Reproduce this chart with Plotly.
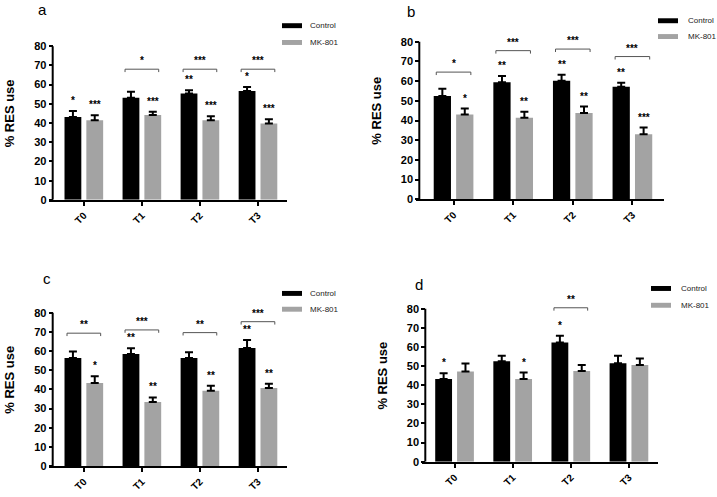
import plotly.graph_objects as go

categories = ["T0", "T1", "T2", "T3"]

# Panel a
a_control = [43.1, 53.2, 55.4, 56.6]
a_control_sem = [3.1, 3.1, 1.7, 2.1]
a_mk801 = [41.4, 44.2, 41.4, 39.8]
a_mk801_sem = [2.6, 1.7, 2.1, 2.1]
a_sig_control = ["*", "", "**", "*"]
a_sig_mk801 = ["***", "***", "***", "***"]
a_sig_pair = ["", "*", "***", "***"]
a_pair_level = [None, 68, 68, 68]

# Panel b
b_control = [52.5, 59.5, 60.2, 57.2]
b_control_sem = [3.7, 3.1, 3.0, 2.0]
b_mk801 = [43.1, 41.4, 43.8, 33.0]
b_mk801_sem = [3.0, 3.0, 3.3, 3.4]
b_sig_control = ["", "**", "**", "**"]
b_sig_mk801 = ["*", "**", "**", "***"]
b_sig_pair = ["*", "***", "***", "***"]
b_pair_level = [64.6, 75.5, 76.3, 72.5]

# Panel c
c_control = [56.3, 58.5, 56.3, 61.6]
c_control_sem = [3.4, 3.0, 3.1, 4.2]
c_mk801 = [43.3, 33.4, 39.3, 40.7]
c_mk801_sem = [3.5, 2.4, 2.6, 2.2]
c_sig_control = ["", "**", "", "**"]
c_sig_mk801 = ["*", "**", "**", "**"]
c_sig_pair = ["**", "***", "**", "***"]
c_pair_level = [69.3, 71.0, 69.6, 75.3]

# Panel d
d_control = [43.3, 52.5, 62.3, 51.5]
d_control_sem = [2.9, 2.9, 3.5, 3.9]
d_mk801 = [47.1, 43.3, 47.4, 50.6]
d_mk801_sem = [4.2, 3.3, 3.2, 3.4]
d_sig_control = ["*", "", "*", ""]
d_sig_mk801 = ["", "*", "", ""]
d_sig_pair = ["", "", "**", ""]
d_pair_level = [None, None, 80.5, None]

y_ticks = [0, 10, 20, 30, 40, 50, 60, 70, 80]
series_names = ["Control", "MK-801"]
panel_labels = ["a", "b", "c", "d"]

# ---------------- layout geometry (pixels) ----------------
W, H = 717, 497
FONT = "Liberation Sans, Arial, sans-serif"
BLACK = "#000000"
GRAY = "#a3a3a3"
BARGAP = 0.248
BARGROUPGAP = 0.23
YMAX = 90

# x-axis start, y-axis position, x-axis end, y of value 0, y of value 80, x range
geom = [
    (49, 52.7, 287, 202.3, 46.7, [-0.60, 3.5]),
    (416, 419.3, 664, 201.7, 42.3, [-0.63, 3.53]),
    (49, 52.7, 287, 471.7, 316.5, [-0.60, 3.5]),
    (422, 425.3, 658, 467.3, 312.5, [-0.56, 3.5]),
]
label_pos = [(42, 10), (411, 12), (47, 282), (419, 288)]
legend_pos = [(282, 26, 308, 43), (658, 21, 686, 37), (282, 297, 308, 313), (651, 292, 679, 309)]

panels = [
    (a_control, a_control_sem, a_mk801, a_mk801_sem, a_sig_control, a_sig_mk801, a_sig_pair, a_pair_level),
    (b_control, b_control_sem, b_mk801, b_mk801_sem, b_sig_control, b_sig_mk801, b_sig_pair, b_pair_level),
    (c_control, c_control_sem, c_mk801, c_mk801_sem, c_sig_control, c_sig_mk801, c_sig_pair, c_pair_level),
    (d_control, d_control_sem, d_mk801, d_mk801_sem, d_sig_control, d_sig_mk801, d_sig_pair, d_pair_level),
]


def px(x):
    return x / W


def py(y):
    return 1 - y / H


fig = go.Figure()
shapes = []
annotations = []
layout_axes = {}

slot = (1 - BARGAP) / 2
off = slot / 2

for k, (ctl, ctl_e, mk, mk_e, s_ctl, s_mk, s_pair, lvl) in enumerate(panels):
    n = k + 1
    xa = "x" if n == 1 else f"x{n}"
    ya = "y" if n == 1 else f"y{n}"
    xl, yax, xr, y0, y80, xrng = geom[k]
    ytop = y0 - (y0 - y80) * YMAX / 80

    for name, vals, errs, col in [(series_names[0], ctl, ctl_e, BLACK), (series_names[1], mk, mk_e, GRAY)]:
        fig.add_trace(go.Bar(
            x=categories, y=vals, name=name, marker=dict(color=col, line=dict(width=0)),
            error_y=dict(type="data", symmetric=False, array=errs, arrayminus=[0] * len(errs),
                         color=BLACK, thickness=2, width=4),
            xaxis=xa, yaxis=ya, showlegend=False,
        ))

    layout_axes["xaxis" if n == 1 else f"xaxis{n}"] = dict(
        domain=[px(xl), px(xr)], anchor=ya, type="category", range=xrng,
        showline=True, linecolor=BLACK, linewidth=2, ticks="outside", ticklen=4,
        tickwidth=1.5, tickcolor=BLACK, tickangle=-45, showgrid=False, zeroline=False,
        tickfont=dict(family=FONT, size=10, color=BLACK, weight="bold"),
    )
    layout_axes["yaxis" if n == 1 else f"yaxis{n}"] = dict(
        domain=[py(y0), py(ytop)], anchor="free", position=px(yax), range=[0, YMAX],
        tickvals=y_ticks, showline=False, ticks="outside", ticklen=4, tickwidth=1.5,
        tickcolor=BLACK, showgrid=False, zeroline=False,
        tickfont=dict(family=FONT, size=11, color=BLACK, weight="bold"),
        title=dict(text="% RES use", standoff=15,
                   font=dict(family=FONT, size=13, color=BLACK, weight="bold")),
    )
    # y-axis line stopping at 80
    shapes.append(dict(type="line", xref="paper", yref=ya, x0=px(yax), x1=px(yax), y0=0, y1=80,
                       line=dict(color=BLACK, width=2)))

    for i in range(len(categories)):
        for txt, xc, top in [(s_ctl[i], i - off, ctl[i] + ctl_e[i]), (s_mk[i], i + off, mk[i] + mk_e[i])]:
            if txt:
                annotations.append(dict(x=xc, y=top, xref=xa, yref=ya, text=txt, showarrow=False,
                                        yanchor="bottom", yshift=3,
                                        font=dict(family=FONT, size=10, color=BLACK, weight="bold")))
        if s_pair[i] and lvl[i] is not None:
            L = lvl[i]
            bx0, bx1 = i - 0.29, i + 0.29
            tick = 1.5
            for (sx0, sy0, sx1, sy1) in [(bx0, L, bx1, L), (bx0, L, bx0, L - tick), (bx1, L, bx1, L - tick)]:
                shapes.append(dict(type="line", xref=xa, yref=ya, x0=sx0, y0=sy0, x1=sx1, y1=sy1,
                                   line=dict(color="#555555", width=1)))
            annotations.append(dict(x=i, y=L, xref=xa, yref=ya, text=s_pair[i], showarrow=False,
                                    yanchor="bottom", yshift=1,
                                    font=dict(family=FONT, size=10, color=BLACK, weight="bold")))

    # panel label
    lx, ly = label_pos[k]
    annotations.append(dict(x=px(lx), y=py(ly), xref="paper", yref="paper", text=panel_labels[k],
                            showarrow=False, xanchor="center", yanchor="middle",
                            font=dict(family=FONT, size=15, color=BLACK)))
    # legend
    rx, ry1, tx, ry2 = legend_pos[k]
    for name, col, ry in [(series_names[0], BLACK, ry1), (series_names[1], GRAY, ry2)]:
        shapes.append(dict(type="rect", xref="paper", yref="paper", x0=px(rx), x1=px(rx + 20),
                           y0=py(ry + 2.5), y1=py(ry - 2.5), fillcolor=col, line=dict(width=0)))
        annotations.append(dict(x=px(tx), y=py(ry), xref="paper", yref="paper", text=name,
                                showarrow=False, xanchor="left", yanchor="middle",
                                font=dict(family=FONT, size=8, color="#222222")))

fig.update_layout(
    width=W, height=H, autosize=False,
    margin=dict(l=0, r=0, t=0, b=0),
    paper_bgcolor="white", plot_bgcolor="white",
    barmode="group", bargap=BARGAP, bargroupgap=BARGROUPGAP,
    shapes=shapes, annotations=annotations, showlegend=False,
    **layout_axes,
)

fig.write_html("out.html", config={"displayModeBar": False},
               post_script="document.body.style.margin='0';document.body.style.overflow='hidden';")
